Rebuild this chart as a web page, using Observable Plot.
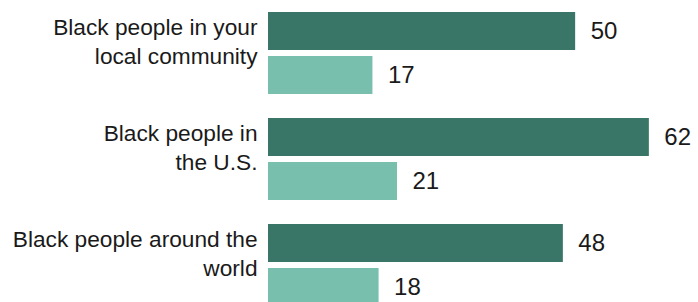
<!DOCTYPE html>
<html>
<head>
<meta charset="utf-8">
<script src="https://cdn.jsdelivr.net/npm/d3@7"></script>
<script src="https://cdn.jsdelivr.net/npm/@observablehq/plot@0.6"></script>
<style>
  html, body { margin: 0; padding: 0; background: #fff; overflow: hidden; }
</style>
</head>
<body>
<div id="chart"></div>
<script>
const groups = [
  "Black people in your\nlocal community",
  "Black people in\nthe U.S.",
  "Black people around the\nworld"
];
const seriesNames = ["Series A", "Series B"];
const seriesA = [50, 62, 48];
const seriesB = [17, 21, 18];
const colors = ["#3a7667", "#78bfae"];

const rows = groups.flatMap((g, i) => [
  {group: g, series: seriesNames[0], value: seriesA[i]},
  {group: g, series: seriesNames[1], value: seriesB[i]}
]);

const chart = Plot.plot({
  width: 698,
  height: 310,
  marginLeft: 268,
  marginRight: 0,
  marginTop: 11,
  marginBottom: 3,
  style: {fontFamily: "'Liberation Sans', Arial, sans-serif", color: "#1a1a1a", background: "#fff"},
  x: {domain: [0, 70], axis: null},
  y: {domain: seriesNames, axis: null, paddingInner: 0.13, paddingOuter: 0},
  fy: {domain: groups, axis: null, paddingInner: 0.2207, paddingOuter: 0},
  color: {domain: seriesNames, range: colors},
  marks: [
    Plot.barX(rows, {fy: "group", y: "series", x: "value", fill: "series"}),
    Plot.text(rows, {fy: "group", y: "series", x: "value", text: d => String(d.value),
      textAnchor: "start", dx: 15, fontSize: 24, fill: "#1a1a1a"}),
    Plot.text(groups, {fy: d => d, text: d => d, frameAnchor: "top-left", textAnchor: "end",
      lineAnchor: "top", dx: -11, dy: 2, fontSize: 22.7, lineHeight: 1.27, fill: "#1a1a1a"})
  ]
});
document.getElementById("chart").appendChild(chart);
</script>
</body>
</html>
